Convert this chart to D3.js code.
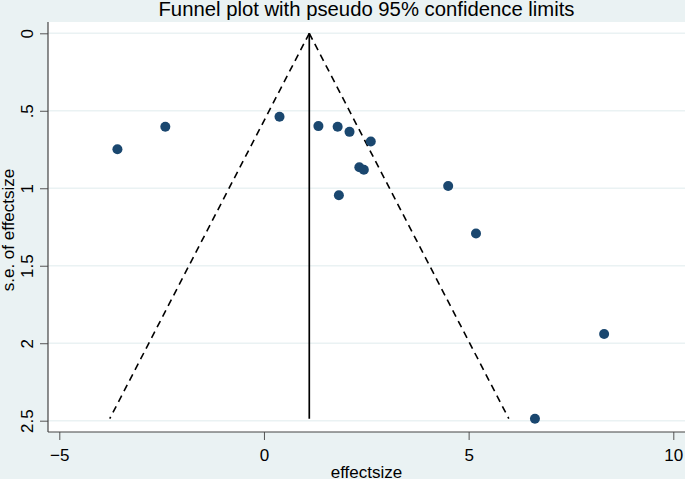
<!DOCTYPE html>
<html>
<head>
<meta charset="utf-8">
<script src="https://cdn.jsdelivr.net/npm/d3@7"></script>
<style>
  body { margin: 0; background: #eaf2f3; }
  text { font-family: "Liberation Sans", Arial, sans-serif; fill: #000; }
</style>
</head>
<body>
<svg id="funnel"></svg>
<script>
// Study estimates
var effectSize = [-3.58, -2.41, 0.38, 1.33, 1.80, 2.09, 2.61, 2.33, 2.44, 1.83, 4.50, 5.18, 8.31, 6.62];
var seEffect   = [0.748, 0.603, 0.539, 0.599, 0.603, 0.636, 0.698, 0.864, 0.881, 1.045, 0.985, 1.292, 1.94, 2.487];

// Pooled (fixed effect) estimate, vertical line of the funnel
var pooled = 1.107;

var xTicks = [-5, 0, 5, 10];
var yTicks = [0, 0.5, 1, 1.5, 2, 2.5];
var yTickLabels = ["0", ".5", "1", "1.5", "2", "2.5"];

var dims = {
    width: 685,
    height: 479,
    plot: { left: 48, top: 22, right: 685, bottom: 432 }
};

const svg = d3.select("#funnel")
    .attr("width", dims.width)
    .attr("height", dims.height);

svg.append("rect")
    .attr("width", dims.width)
    .attr("height", dims.height)
    .attr("fill", "#eaf2f3");

// white plot region
svg.append("rect")
    .attr("x", dims.plot.left)
    .attr("y", dims.plot.top)
    .attr("width", dims.plot.right - dims.plot.left)
    .attr("height", dims.plot.bottom - dims.plot.top)
    .attr("fill", "#fff");

const xScale = d3.scaleLinear().domain([-5, 10]).range([59.3, 673.3]);
// s.e. axis runs downward
const yScale = d3.scaleLinear().domain([0, 2.5]).range([33.3, 420.7]);

// horizontal grid lines
svg.append("g")
    .selectAll("line")
    .data(yTicks)
    .enter()
    .append("line")
    .attr("x1", dims.plot.left)
    .attr("x2", dims.plot.right)
    .attr("y1", d => yScale(d))
    .attr("y2", d => yScale(d))
    .attr("stroke", "#eaf2f3")
    .attr("stroke-width", 1.5);

// pseudo 95% confidence limits
const maxSe = d3.max(seEffect);
const funnel = [
    [[pooled, 0], [pooled - 1.96 * maxSe, maxSe]],
    [[pooled, 0], [pooled + 1.96 * maxSe, maxSe]]
];
const line = d3.line().x(d => xScale(d[0])).y(d => yScale(d[1]));

svg.append("g")
    .selectAll("path")
    .data(funnel)
    .enter()
    .append("path")
    .attr("d", line)
    .attr("fill", "none")
    .attr("stroke", "#000")
    .attr("stroke-width", 1.6)
    .attr("stroke-dasharray", "7,5");

svg.append("path")
    .attr("d", line([[pooled, 0], [pooled, maxSe]]))
    .attr("stroke", "#000")
    .attr("stroke-width", 1.7);

// studies
svg.append("g")
    .selectAll("circle")
    .data(effectSize.map((d, i) => ({ es: d, se: seEffect[i] })))
    .enter()
    .append("circle")
    .attr("cx", d => xScale(d.es))
    .attr("cy", d => yScale(d.se))
    .attr("r", 5)
    .attr("fill", "#1a476f");

// x axis
const xAxis = d3.axisBottom(xScale).tickValues(xTicks).tickSize(8).tickSizeOuter(0).tickPadding(9);
const gx = svg.append("g")
    .attr("transform", `translate(0,${dims.plot.bottom})`)
    .call(xAxis);
gx.select(".domain").remove();
gx.selectAll("line").attr("stroke", "#555");
gx.selectAll("text").style("font-size", "17px").style("font-family", "Liberation Sans, Arial, sans-serif");

svg.append("line")
    .attr("x1", dims.plot.left)
    .attr("x2", dims.plot.right)
    .attr("y1", dims.plot.bottom)
    .attr("y2", dims.plot.bottom)
    .attr("stroke", "#444")
    .attr("stroke-width", 1.2);

// y axis with vertical labels
const yAxis = d3.axisLeft(yScale).tickValues(yTicks).tickSize(8).tickSizeOuter(0)
    .tickFormat((d, i) => yTickLabels[i]);
const gy = svg.append("g")
    .attr("transform", `translate(${dims.plot.left},0)`)
    .call(yAxis);
gy.select(".domain").remove();
gy.selectAll("line").attr("stroke", "#555");
gy.selectAll("text")
    .style("font-size", "17px")
    .style("font-family", "Liberation Sans, Arial, sans-serif")
    .attr("text-anchor", "middle")
    .attr("x", null)
    .attr("dy", null)
    .attr("transform", "translate(-15,0) rotate(-90)");

svg.append("line")
    .attr("x1", dims.plot.left)
    .attr("x2", dims.plot.left)
    .attr("y1", dims.plot.top)
    .attr("y2", dims.plot.bottom)
    .attr("stroke", "#444")
    .attr("stroke-width", 1.2);

// titles
const centerX = (dims.plot.left + dims.plot.right) / 2;
svg.append("text")
    .attr("x", centerX)
    .attr("y", 16)
    .attr("text-anchor", "middle")
    .style("font-size", "20.3px")
    .text("Funnel plot with pseudo 95% confidence limits");

svg.append("text")
    .attr("x", centerX)
    .attr("y", 478)
    .attr("text-anchor", "middle")
    .style("font-size", "17px")
    .text("effectsize");

svg.append("text")
    .attr("transform", `translate(14,${(dims.plot.top + dims.plot.bottom) / 2 + 3}) rotate(-90)`)
    .attr("text-anchor", "middle")
    .style("font-size", "17px")
    .text("s.e. of effectsize");
</script>
</body>
</html>
